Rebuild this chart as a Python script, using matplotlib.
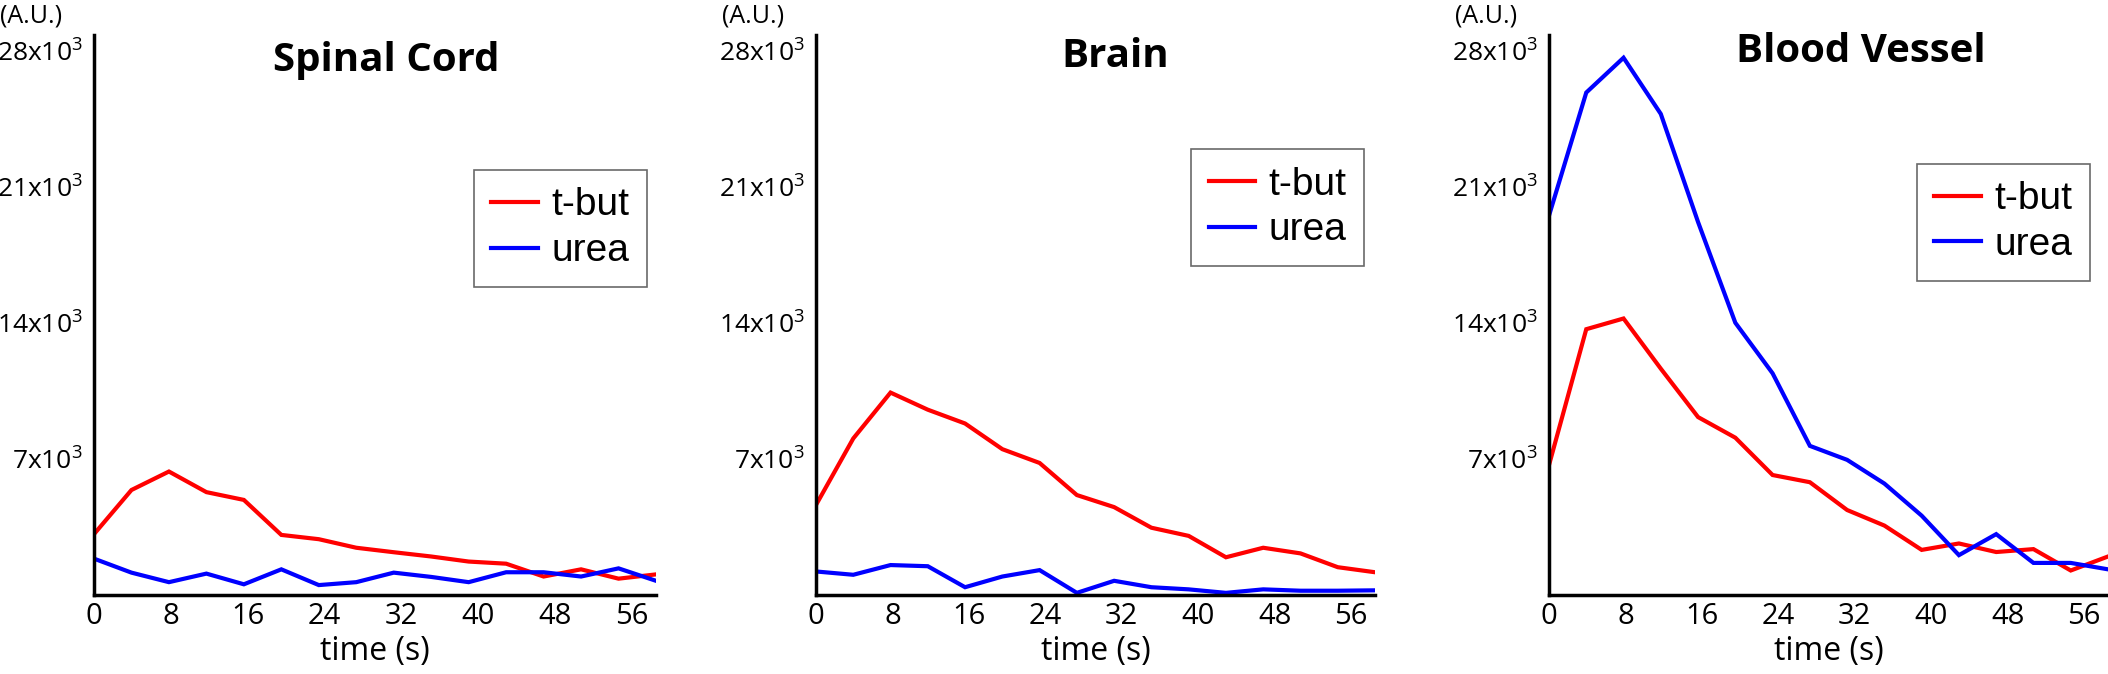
import matplotlib
matplotlib.use("Agg")
import matplotlib.pyplot as plt

# time points (s) and signal for each tissue (A.U.)
time_s = [0, 3.9, 7.8, 11.7, 15.6, 19.5, 23.4, 27.3, 31.2, 35.1, 39.0, 42.9, 46.8, 50.7, 54.6, 58.5]

spinal_tbut = [3130, 5400, 6350, 5290, 4890, 3090, 2870, 2430, 2200, 1980, 1720, 1610, 950, 1320, 840, 1060]
spinal_urea = [1870, 1150, 660, 1100, 550, 1320, 510, 660, 1150, 930, 660, 1170, 1170, 950, 1370, 730]
brain_tbut = [4630, 8050, 10410, 9530, 8820, 7500, 6790, 5140, 4520, 3460, 3040, 1940, 2430, 2140, 1430, 1170]
brain_urea = [1210, 1040, 1540, 1480, 400, 950, 1280, 110, 730, 400, 290, 110, 290, 220, 220, 240]
vessel_tbut = [6680, 13670, 14220, 11640, 9150, 8090, 6170, 5800, 4370, 3570, 2320, 2650, 2210, 2360, 1260, 1980]
vessel_urea = [19510, 25840, 27630, 24740, 19180, 14000, 11400, 7670, 6950, 5730, 4080, 2050, 3130, 1650, 1650, 1320]

panel_titles = ["Spinal Cord", "Brain", "Blood Vessel"]
series_names = ["t-but", "urea"]
x_ticks = [0, 8, 16, 24, 32, 40, 48, 56]
y_ticks = [7000, 14000, 21000, 28000]
y_tick_labels = ["7x10$^3$", "14x10$^3$", "21x10$^3$", "28x10$^3$"]

panels = [(spinal_tbut, spinal_urea), (brain_tbut, brain_urea), (vessel_tbut, vessel_urea)]

tick_font = "Open Sans"
legend_font = "Liberation Sans"

# superscripts in the tick labels drawn with the same font
plt.rcParams["mathtext.fontset"] = "custom"
plt.rcParams["mathtext.rm"] = tick_font
plt.rcParams["mathtext.default"] = "rm"

W, H = 2108, 674
fig = plt.figure(figsize=(W / 100, H / 100), dpi=100)

# axes boxes in pixels: left, right (top/bottom shared)
ax_px = [(94, 656), (816, 1375), (1549, 2108)]
top_px, bottom_px = 35, 595
title_pos = [(0.52, 0.955), (0.535, 0.962), (0.558, 0.971)]
legend_pos = [(0.676, 0.759), (0.671, 0.796), (0.658, 0.770)]

for i, (tbut, urea) in enumerate(panels):
  l, r = ax_px[i]
  ax = fig.add_axes([l / W, 1 - bottom_px / H, (r - l) / W, (bottom_px - top_px) / H])
  ax.plot(time_s, tbut, color="#ff0000", lw=3, label=series_names[0], solid_joinstyle="miter")
  ax.plot(time_s, urea, color="#0000ff", lw=3, label=series_names[1], solid_joinstyle="miter")
  ax.set_xlim(0, 58.5)
  ax.set_ylim(0, 28800)

  for side in ["top", "right"]:
    ax.spines[side].set_visible(False)
  for side in ["left", "bottom"]:
    ax.spines[side].set_linewidth(2.5)
    ax.spines[side].set_color("black")

  ax.set_xticks(x_ticks)
  ax.set_xticklabels([str(t) for t in x_ticks], fontsize=21, family=tick_font)
  ax.set_yticks(y_ticks)
  ax.set_yticklabels(y_tick_labels, fontsize=19, family=tick_font)
  ax.tick_params(axis="both", length=0)
  ax.tick_params(axis="x", pad=5)
  ax.tick_params(axis="y", pad=8)

  ax.set_xlabel("time (s)", fontsize=23, family=tick_font, labelpad=3)
  ax.text(title_pos[i][0], title_pos[i][1], panel_titles[i], transform=ax.transAxes,
          ha="center", va="center", fontsize=29, fontweight="bold", family=tick_font)
  ax.text(-0.112, 1.034, "(A.U.)", transform=ax.transAxes, ha="center", va="center",
          fontsize=18, family=tick_font, clip_on=False)

  leg = ax.legend(loc="upper left", bbox_to_anchor=legend_pos[i], borderaxespad=0,
                  fancybox=False, frameon=True, handlelength=1.2, handletextpad=0.35,
                  borderpad=0.45, labelspacing=0.25, prop={"family": legend_font, "size": 28})
  leg.get_frame().set_edgecolor("#444444")
  leg.get_frame().set_linewidth(1.2)

fig.savefig("out.png", dpi=100)
